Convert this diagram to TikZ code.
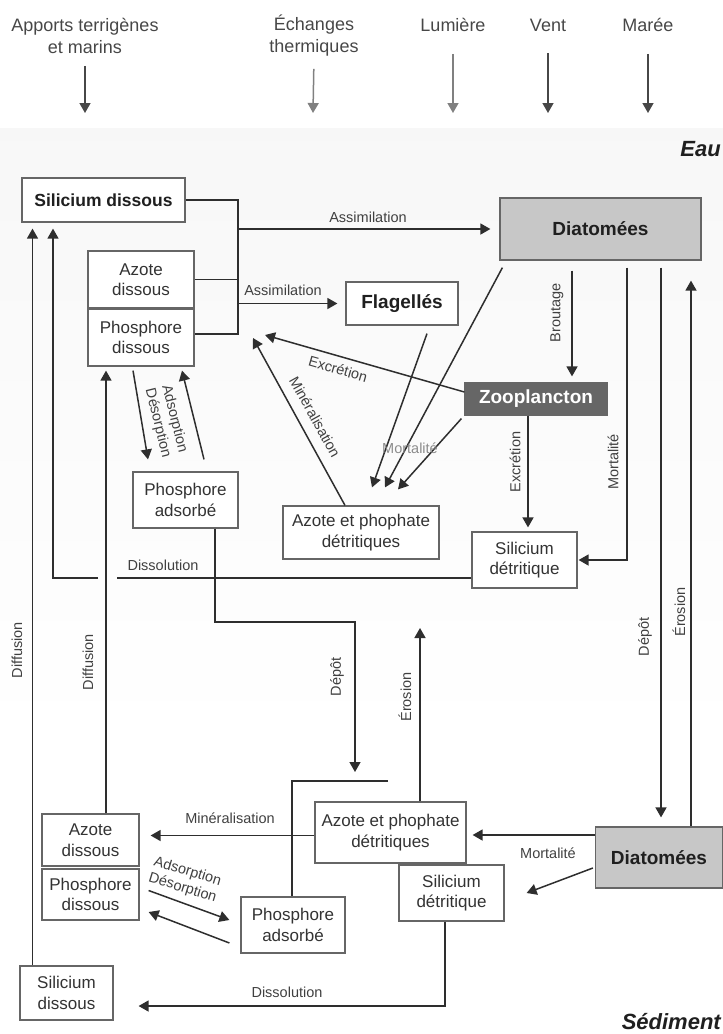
\documentclass[tikz,border=0pt]{standalone}
\usepackage{fontspec}
\setmainfont{Liberation Sans}
\usetikzlibrary{shapes,arrows,arrows.meta,positioning}

\begin{document}
\begin{tikzpicture}[x=1pt,y=-1pt]
	\tikzstyle{Box}		= [rectangle, draw=black!60, line width=1.2pt, fill=white, text=black!80, align=center, inner sep=0pt, font=\fontsize{17}{20.5}\selectfont]
	\tikzstyle{Bold}	= [text=black!88, font=\fontsize{19}{22}\selectfont\bfseries]
	\tikzstyle{Algae}	= [fill=black!22]
	\tikzstyle{Grazer}	= [fill=black!60, draw=black!60, text=white]
	\tikzstyle{Flow}	= [line width=1.5pt, black!82]
	\tikzstyle{Tip}		= [-{Triangle[length=10pt,width=11pt]}]
	\tikzstyle{Lbl}		= [inner sep=0pt, text=black!75, font=\fontsize{14.5}{17}\selectfont]
	\tikzstyle{Source}	= [inner sep=0pt, align=center, text=black!72, font=\fontsize{18}{22}\selectfont]
	\tikzstyle{Feed}	= [line width=1.5pt, black!72]
	\tikzstyle{Pale}	= [black!50]
	\tikzstyle{Zone}	= [inner sep=0pt, anchor=east, text=black!88, font=\fontsize{22}{26}\selectfont\bfseries\itshape]

	\useasboundingbox (0,0) rectangle (723,1034);
	\shade [top color=black!3, bottom color=white] (0,128) rectangle (723,740);

	% forcings
	\node (apports) at (85,36) [Source] {Apports terrigènes\\et marins};
	\node (echanges) at (314,36) [Source] {Échanges\\thermiques};
	\node (lumiere) at (453,25) [Source] {Lumière};
	\node (vent) at (548,25) [Source] {Vent};
	\node (maree) at (648,25) [Source] {Marée};
	\coordinate (inApports) at (85,113);
	\coordinate (inEchanges) at (313,113);
	\coordinate (inLumiere) at (453,113);
	\coordinate (inVent) at (548,113);
	\coordinate (inMaree) at (648,113);
	\draw [Feed, Tip, shorten <=12pt] (apports.south) -- (inApports);
	\draw [Feed, Pale, Tip, shorten <=12pt] (echanges.south) -- (inEchanges);
	\draw [Feed, Pale, Tip, shorten <=22pt] (lumiere.south) -- (inLumiere);
	\draw [Feed, Tip, shorten <=22pt] (vent.south) -- (inVent);
	\draw [Feed, Tip, shorten <=22pt] (maree.south) -- (inMaree);

	\node (eau) at (721,149) [Zone] {Eau};
	\node (sed) at (721,1022) [Zone] {Sédiment};

	% water column
	\node (sdE) at (103.5,200) [Box][Bold][font=\fontsize{17.5}{20}\selectfont\bfseries, minimum width=163pt, minimum height=44pt] {Silicium dissous};
	\node (adE) at (141,279.5) [Box][minimum width=106pt, minimum height=57pt] {Azote\\dissous};
	\node (pdE) at (141,337.5) [Box][minimum width=106pt, minimum height=57pt] {Phosphore\\dissous};
	\node (diE) at (600.5,229) [Box][Bold][Algae][minimum width=201pt, minimum height=62pt] {Diatomées};
	\node (fl) at (402,303.5) [Box][Bold][minimum width=112pt, minimum height=43pt] {Flagellés};
	\node (zoo) at (536,399) [Box][Bold][Grazer][minimum width=142pt, minimum height=32pt] {Zooplancton};
	\node (paE) at (185.5,500) [Box][minimum width=105pt, minimum height=56pt] {Phosphore\\adsorbé};
	\node (apE) at (361,532.5) [Box][minimum width=156pt, minimum height=53pt] {Azote et phophate\\détritiques};
	\node (stE) at (524.5,560) [Box][minimum width=105pt, minimum height=56pt] {Silicium\\détritique};

	% sediment
	\node (adS) at (90.5,840) [Box][minimum width=97pt, minimum height=52pt] {Azote\\dissous};
	\node (pdS) at (90.5,894.5) [Box][minimum width=97pt, minimum height=51pt] {Phosphore\\dissous};
	\node (sdS) at (66.5,993) [Box][minimum width=93pt, minimum height=54pt] {Silicium\\dissous};
	\node (paS) at (293,925) [Box][minimum width=104pt, minimum height=56pt] {Phosphore\\adsorbé};
	\node (apS) at (390.5,832.5) [Box][minimum width=151pt, minimum height=61pt] {Azote et phophate\\détritiques};
	\node (stS) at (451.5,893) [Box][minimum width=105pt, minimum height=56pt] {Silicium\\détritique};
	\node (diS) at (659,857.5) [Box][Bold][Algae][minimum width=127pt, minimum height=61pt] {Diatomées};

	% assimilation
	\coordinate (jBot) at (238,334);
	\draw [Flow] (sdE.east) -| (jBot) -- (jBot -| pdE.east);
	\draw [Flow] (adE.east) -- (adE.east -| jBot);
	\draw [Flow, Tip, shorten >=9pt] (jBot |- diE.west) -- (diE.west);
	\draw [Flow, Tip, shorten >=8pt] (jBot |- fl.west) -- (fl.west);
	\node (lAssim1) at (368,217) [Lbl] {Assimilation};
	\node (lAssim2) at (283,290) [Lbl] {Assimilation};

	% grazing, mortality, excretion
	\draw [Flow, Tip, shorten <=10pt, shorten >=6pt] ([xshift=-28.5pt]diE.south) -- ([xshift=36pt]zoo.north);
	\node (lBrout) at (557,313) [Lbl, rotate=90] {Broutage};
	\draw [Flow, Tip, shorten <=7pt, shorten >=1pt] ([xshift=26.5pt]diE.south) |- (stE.east);
	\node (lMortE) at (613,462) [Lbl, rotate=90] {Mortalité};
	\draw [Flow, Tip, shorten >=4pt] ([xshift=-8pt]zoo.south) -- ([xshift=3.5pt]stE.north);
	\node (lExcr1) at (515,462) [Lbl, rotate=90] {Excrétion};
	\coordinate (exTip) at (265,335);
	\draw [Flow, Tip] ([yshift=7pt]zoo.west) -- (exTip);
	\node (lExcr2) at (338,369) [Lbl, rotate=-16] {Excrétion};
	\coordinate (minTip) at (253,338);
	\draw [Flow, Tip] ([xshift=-16pt]apE.north) -- (minTip);
	\node (lMinE) at (315,417) [Lbl, rotate=-61] {Minéralisation};
	\draw [Flow, Tip] ([xshift=25pt, yshift=-8pt]fl.south) -- ([xshift=11pt, yshift=18pt]apE.north);
	\draw [Flow, Tip] ([xshift=3pt, yshift=-7pt]diE.south west) -- ([xshift=24pt, yshift=18pt]apE.north);
	\draw [Flow, Tip] ([xshift=-3pt, yshift=-3pt]zoo.south west) -- ([xshift=37pt, yshift=16pt]apE.north);
	\node (lMortF) at (410,448) [Lbl, text=black!45] {Mortalité};

	% adsorption in the water
	\draw [Flow, Tip] ([xshift=-8pt, yshift=-4pt]pdE.south) -- ([xshift=-37.5pt, yshift=12pt]paE.north);
	\draw [Flow, Tip] ([xshift=18.5pt, yshift=12pt]paE.north) -- ([xshift=41pt, yshift=-4pt]pdE.south);
	\node (lAdsE) at (166,421) [Lbl, align=center, rotate=-76] {Adsorption\\Désorption};

	% dissolution in the water
	\coordinate (gapR) at (117,578);
	\coordinate (gapL) at (98,578);
	\draw [Flow] ([yshift=-18pt]stE.west) -- (gapR);
	\draw [Flow, Tip, shorten >=6pt] (gapL) -| ([xshift=-50.5pt]sdE.south);
	\node (lDissE) at (163,565) [Lbl] {Dissolution};

	% exchanges with the sediment
	\draw [Flow, Tip, shorten >=6pt] ([xshift=-34pt]sdS.north) -- ([xshift=-71pt]sdE.south);
	\draw [Flow, Tip, shorten >=4pt] ([xshift=15.5pt]adS.north) -- ([xshift=-35pt]pdE.south);
	\node (lDiff1) at (17,650) [Lbl, rotate=90] {Diffusion};
	\node (lDiff2) at (88,662) [Lbl, rotate=90] {Diffusion};
	\draw [Flow, Tip, shorten <=7pt, shorten >=9pt] ([xshift=60.5pt]diE.south) -- ([xshift=2pt]diS.north);
	\draw [Flow, Tip, shorten >=20pt] ([xshift=32pt]diS.north) -- ([xshift=90.5pt]diE.south);
	\node (lDepE) at (645,637) [Lbl, rotate=90] {Dépôt};
	\node (lEroE) at (679,612) [Lbl, rotate=90] {Érosion};
	\coordinate (depBend) at (355,622);
	\coordinate (depTip) at (355,772);
	\draw [Flow, Tip] ([xshift=29.5pt]paE.south) |- (depBend) -- (depTip);
	\coordinate (brR) at (388,781);
	\draw [Flow] (brR) -| ([xshift=-1pt]paS.north);
	\node (lDepM) at (337,677) [Lbl, rotate=90] {Dépôt};
	\coordinate (eroTip) at (420,628);
	\draw [Flow, Tip] ([xshift=29.5pt]apS.north) -- (eroTip);
	\node (lEroM) at (405,697) [Lbl, rotate=90] {Érosion};

	% sediment fluxes
	\draw [Flow, Tip, shorten >=11pt] ([yshift=-3pt]apS.west) -- ([yshift=-3pt]apS.west -| adS.east);
	\node (lMinS) at (230,818) [Lbl] {Minéralisation};
	\draw [Flow, Tip] ([xshift=9pt, yshift=4pt]pdS.east) -- ([xshift=-11pt, yshift=5pt]paS.west);
	\draw [Flow, Tip] ([xshift=-11pt, yshift=-18pt]paS.west) -- ([xshift=9pt, yshift=-17.5pt]pdS.east);
	\node (lAdsS) at (185,880) [Lbl, align=center, rotate=-17] {Adsorption\\Désorption};
	\draw [Flow, Tip, shorten >=6pt] ([yshift=22.5pt]diS.west) -- ([yshift=22.5pt]diS.west -| apS.east);
	\draw [Flow, Tip] ([xshift=-2pt, yshift=-10.5pt]diS.west) -- ([xshift=22pt]stS.east);
	\node (lMortS) at (548,853) [Lbl] {Mortalité};
	\draw [Flow, Tip] ([xshift=-6.5pt]stS.south) |- ([xshift=25pt, yshift=-13pt]sdS.east);
	\node (lDissS) at (287,992) [Lbl] {Dissolution};
\end{tikzpicture}
\end{document}
